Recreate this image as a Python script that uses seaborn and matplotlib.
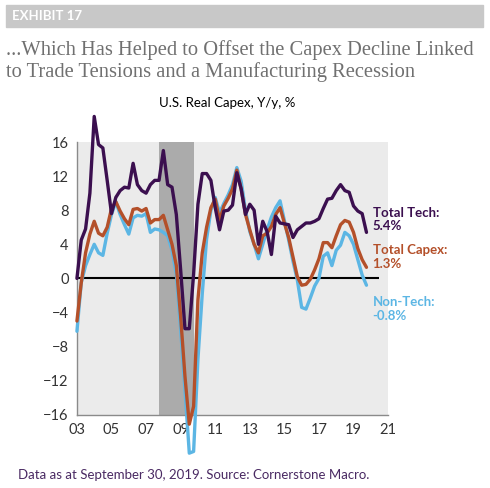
import numpy as np
import pandas as pd
import matplotlib
matplotlib.use("Agg")
import matplotlib.pyplot as plt
import seaborn as sns

sns.set_style("white")
plt.rcParams['font.family'] = ['Lato', 'DejaVu Sans']

# Quarterly series, 2003Q1 - 2019Q4 (Y/y %)
quarters = pd.period_range('2003Q1', '2019Q4', freq='Q')

total_tech = [0.0, 4.5, 5.8, 10.0, 19.0, 15.7, 15.3, 11.5, 7.6, 9.5, 10.3, 10.7,
              10.6, 13.5, 11.0, 10.3, 10.0, 11.0, 11.5, 11.5, 15.0, 11.0, 10.7, 7.5,
              1.0, -5.9, -5.9, 0.5, 8.7, 12.3, 12.3, 11.5, 8.3, 5.7, 7.9, 8.0,
              8.6, 12.4, 10.5, 7.5, 8.7, 8.0, 4.0, 6.7, 5.5, 2.8, 7.3, 6.5,
              6.4, 6.3, 4.8, 5.7, 6.1, 6.5, 6.5, 6.7, 7.0, 8.2, 9.3, 9.4,
              10.3, 11.0, 10.3, 10.1, 8.5, 7.9, 7.6, 5.4]

total_capex = [-5.0, -0.5, 3.0, 5.2, 6.7, 5.3, 5.0, 6.0, 8.2, 9.0, 7.9, 7.0,
               6.3, 8.1, 8.2, 7.9, 8.2, 6.5, 6.9, 6.9, 7.4, 5.7, 4.0, 1.5,
               -4.5, -11.5, -17.1, -15.0, -2.5, 3.0, 6.0, 8.3, 9.3, 6.8, 8.5, 9.4,
               10.5, 12.7, 10.5, 7.5, 5.7, 4.0, 3.0, 5.0, 5.3, 6.1, 7.5, 8.3,
               6.5, 4.8, 2.5, 0.2, -0.8, -0.7, -0.1, 1.0, 2.3, 4.2, 4.2, 3.6,
               5.0, 6.3, 6.8, 6.6, 5.4, 3.5, 2.2, 1.3]

non_tech = [-6.2, -0.5, 1.5, 2.8, 4.0, 3.0, 2.7, 5.3, 7.5, 9.0, 7.5, 6.3,
            5.2, 7.1, 7.4, 7.3, 7.6, 5.4, 5.8, 5.7, 5.4, 5.0, 3.3, 0.5,
            -6.0, -13.0, -20.5, -20.3, -9.5, -1.8, 4.6, 8.0, 9.5, 7.7, 8.8, 9.8,
            11.0, 13.0, 11.4, 8.0, 5.5, 4.0, 2.3, 4.0, 5.7, 7.2, 8.3, 9.1,
            6.8, 4.5, 2.0, -0.2, -3.4, -3.6, -2.3, -0.9, 0.0, 2.6, 3.0, 1.5,
            3.3, 3.9, 5.4, 5.0, 4.0, 2.2, 0.4, -0.8]

series_names = ['Non-Tech', 'Total Capex', 'Total Tech']
series_colors = ['#5cb6e4', '#b4502a', '#3b0f4f']
labels = ['Non-Tech:\n-0.8%', 'Total Capex:\n1.3%', 'Total Tech:\n5.4%']
label_y = [-3.6, 2.5, 6.9]

recession = (2007.75, 2009.75)
x_ticks = list(range(2003, 2022, 2))
x_ticklabels = ['03', '05', '07', '09', '11', '13', '15', '17', '19', '21']
y_ticks = list(range(-16, 17, 4))

years = quarters.year + (quarters.quarter - 1) / 4.0
df = pd.DataFrame({'year': years, 'Total Tech': total_tech,
                   'Total Capex': total_capex, 'Non-Tech': non_tech})

fig = plt.figure(figsize=(4.9, 4.88), dpi=100)
ax = fig.add_axes([0.157, 0.150, 0.635, 0.559])
ax.set_facecolor('#ebebeb')

ax.axvspan(recession[0], recession[1], color='#ababab', lw=0, zorder=0)
ax.hlines(0, 2003, 2020.5, color='black', lw=1.5, zorder=2)

for name, col in zip(series_names, series_colors):
    sns.lineplot(data=df, x='year', y=name, color=col, lw=2.4, ax=ax,
                 clip_on=False, zorder=3)

for txt, col, yy in zip(labels, series_colors, label_y):
    ax.text(2020.1, yy, txt, color=col, fontsize=9.5, fontweight='bold',
            va='center', ha='left', linespacing=1.15, clip_on=False)

ax.set_xlim(2003, 2021)
ax.set_ylim(-16, 16)
ax.set_xticks(x_ticks)
ax.set_xticklabels(x_ticklabels)
ax.set_yticks(y_ticks)
ax.set_xlabel('')
ax.set_ylabel('')
for s in ['top', 'right']:
    ax.spines[s].set_visible(False)
for s in ['left', 'bottom']:
    ax.spines[s].set_color('#8a8a8a')
    ax.spines[s].set_linewidth(1.0)
ax.tick_params(axis='x', direction='in', length=3, color='#8a8a8a',
               labelsize=10.5, labelcolor='#333333', pad=6)
ax.tick_params(axis='y', direction='out', length=3, color='#8a8a8a',
               labelsize=10.5, labelcolor='#333333', pad=3)

# header bar
fig.patches.append(plt.Rectangle((6 / 490, 1 - 27 / 488), 477 / 490, 22 / 488,
                                 transform=fig.transFigure, color='#c8c8c8', zorder=0))
fig.text(12 / 490, 1 - 16 / 488, 'EXHIBIT 17', color='white', fontsize=9.5,
         fontweight='bold', va='center', ha='left')
fig.text(6 / 490, 1 - 61 / 488,
         '...Which Has Helped to Offset the Capex Decline Linked\nto Trade Tensions and a Manufacturing Recession',
         family=['Liberation Serif', 'DejaVu Serif'], color='#707070', fontsize=14.8,
         va='center', ha='left', linespacing=1.2)
fig.text(227 / 490, 1 - 103 / 488, 'U.S. Real Capex, Y/y, %', fontsize=9.5,
         color='black', ha='center', va='center')
fig.text(18 / 490, 1 - 475 / 488,
         'Data as at September 30, 2019. Source: Cornerstone Macro.',
         fontsize=9.5, color='#4a2a63', ha='left', va='center')

fig.savefig('out.png', dpi=100)
